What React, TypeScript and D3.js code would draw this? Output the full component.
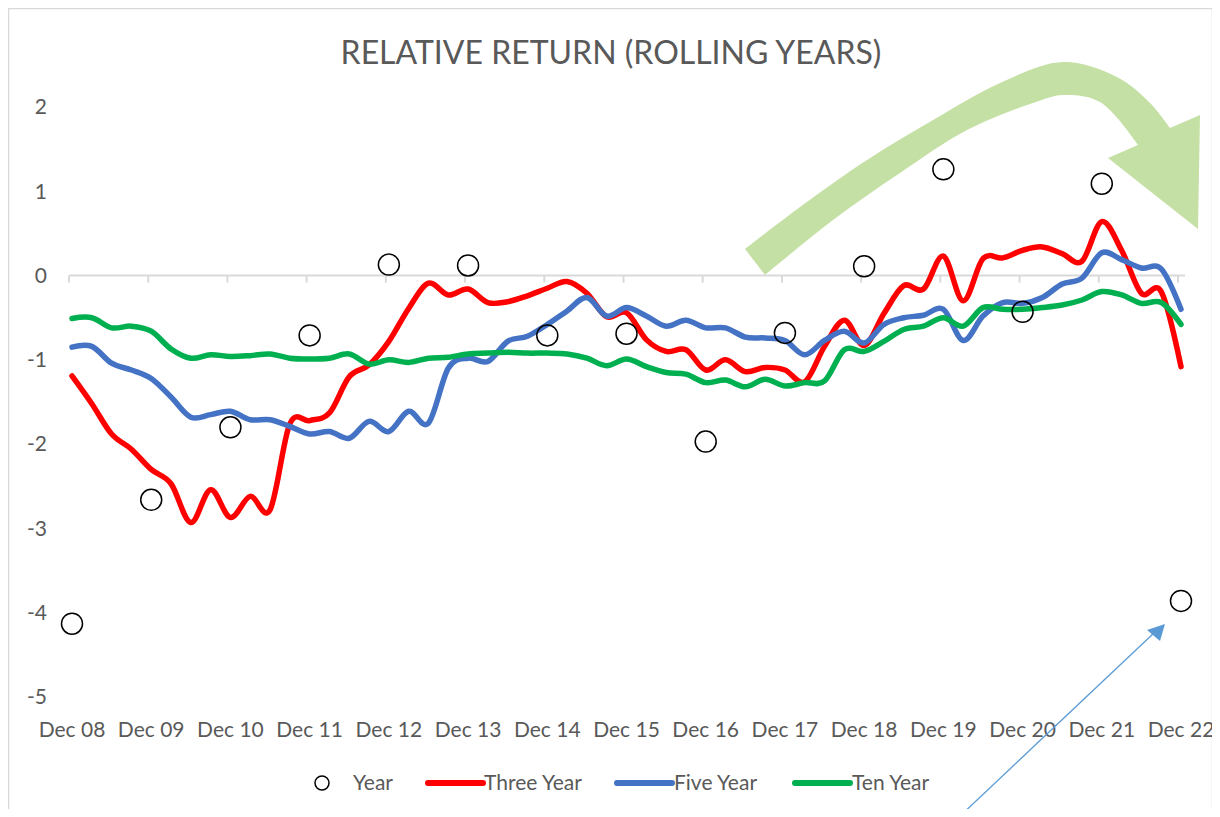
import React from 'react';
import * as d3 from 'd3';

// x-axis categories (one per December)
const yearLabels = ['Dec 08', 'Dec 09', 'Dec 10', 'Dec 11', 'Dec 12', 'Dec 13', 'Dec 14', 'Dec 15',
  'Dec 16', 'Dec 17', 'Dec 18', 'Dec 19', 'Dec 20', 'Dec 21', 'Dec 22'];

// single year relative return (circles)
const yearValues = [-4.13, -2.66, -1.80, -0.71, 0.13, 0.12, -0.71, -0.69, -1.97, -0.68, 0.11, 1.26, -0.43, 1.09, -3.86];

// rolling series, quarterly from Dec 08 to Dec 22
const threeYear = [
  -1.19, -1.52, -1.88, -2.06,
  -2.30, -2.47, -2.93, -2.54,
  -2.87, -2.62, -2.78, -1.76,
  -1.72, -1.63, -1.20, -1.06,
  -0.78, -0.39, -0.09, -0.23,
  -0.16, -0.32, -0.31, -0.24,
  -0.15, -0.07, -0.21, -0.49,
  -0.44, -0.76, -0.90, -0.88,
  -1.12, -1.00, -1.14, -1.09,
  -1.12, -1.26, -0.84, -0.53,
  -0.83, -0.45, -0.12, -0.16,
  0.23, -0.30, 0.20, 0.21,
  0.30, 0.34, 0.26, 0.17,
  0.64, 0.30, -0.21, -0.19,
  -1.08,
];
const fiveYear = [
  -0.85, -0.84, -1.04, -1.12,
  -1.22, -1.44, -1.68, -1.65,
  -1.61, -1.71, -1.71, -1.79,
  -1.88, -1.85, -1.93, -1.73,
  -1.85, -1.61, -1.75, -1.10,
  -0.98, -1.02, -0.78, -0.72,
  -0.58, -0.42, -0.26, -0.48,
  -0.38, -0.48, -0.60, -0.53,
  -0.62, -0.62, -0.73, -0.74,
  -0.77, -0.94, -0.77, -0.66,
  -0.80, -0.58, -0.50, -0.47,
  -0.40, -0.77, -0.48, -0.32,
  -0.33, -0.26, -0.10, -0.03,
  0.27, 0.19, 0.09, 0.08,
  -0.40,
];
const tenYear = [
  -0.51, -0.50, -0.62, -0.60,
  -0.66, -0.87, -0.98, -0.94,
  -0.96, -0.95, -0.93, -0.98,
  -0.99, -0.98, -0.93, -1.05,
  -1.00, -1.03, -0.98, -0.97,
  -0.93, -0.92, -0.91, -0.92,
  -0.92, -0.93, -0.98, -1.07,
  -0.99, -1.08, -1.15, -1.17,
  -1.27, -1.24, -1.32, -1.23,
  -1.31, -1.27, -1.25, -0.88,
  -0.90, -0.78, -0.64, -0.60,
  -0.50, -0.60, -0.38, -0.40,
  -0.40, -0.38, -0.35, -0.29,
  -0.19, -0.23, -0.33, -0.32,
  -0.58,
];

const yTicks = [2, 1, 0, -1, -2, -3, -4, -5];

const series = [
  { name: 'Three Year', values: threeYear, color: '#FF0000' },
  { name: 'Five Year', values: fiveYear, color: '#4472C4' },
  { name: 'Ten Year', values: tenYear, color: '#00B050' },
];

const FONT = 'Lato, "Open Sans", sans-serif';
const TEXT = '#595959';
const GRID = '#D9D9D9';

const App = () => {
  const W = 1220;
  const H = 817;

  // page coordinates (the svg sits inside the 8px body margin)
  const x = d3.scaleLinear().domain([0, yearLabels.length - 1]).range([72, 1181]);
  const y = d3.scaleLinear().domain([-5, 2]).range([697, 107]);

  const line = d3.line<number>()
    .x((d, i) => x(i / 4))
    .y(d => y(d))
    .curve(d3.curveCardinal.tension(0));

  // curved green annotation arrow
  const outer = d3.line().curve(d3.curveCatmullRom)([
    [745, 249], [800, 207], [867, 160], [933, 120], [1000, 83], [1063, 62], [1117, 77], [1150, 103], [1170, 128],
  ]);
  const inner = d3.line().curve(d3.curveCatmullRom)([
    [1138, 145], [1100, 102], [1063, 95], [1033, 103], [967, 130], [900, 173], [833, 220], [765, 275],
  ]);
  const arrowPath = `${outer} L1200,115 L1198,229 L1108,158 L${inner!.slice(1)} Z`;

  const legendItems = [
    { name: 'Year', type: 'circle', color: '#000', cx: 322, tx: 353 },
    { name: 'Three Year', type: 'line', color: series[0].color, cx: 428, tx: 484 },
    { name: 'Five Year', type: 'line', color: series[1].color, cx: 617, tx: 674 },
    { name: 'Ten Year', type: 'line', color: series[2].color, cx: 795, tx: 852 },
  ];

  return (
    <svg width={W - 8} height={H - 8} style={{ display: 'block', overflow: 'hidden', marginBottom: -8 }}>
      <g transform="translate(-8,-8)" fontFamily={FONT}>
        <rect x={8.5} y={8.5} width={1204} height={830} fill="#fff" stroke={GRID} strokeWidth={1.5} />

        <text x={611} y={64} textAnchor="middle" fontSize={32} fill={TEXT}>
          RELATIVE RETURN (ROLLING YEARS)
        </text>

        {/* y labels */}
        {yTicks.map(t => (
          <text key={t} x={47} y={y(t)} dy="0.35em" textAnchor="end" fontSize={21} fill={TEXT}>
            {t}
          </text>
        ))}

        {/* zero axis with ticks */}
        <line x1={x(0) - 3} x2={x(yearLabels.length - 1) + 4} y1={y(0)} y2={y(0)} stroke={GRID} strokeWidth={2} />
        {yearLabels.map((l, i) => (
          <line key={l} x1={x(i) - 3} x2={x(i) - 3} y1={y(0)} y2={y(0) + 7} stroke={GRID} strokeWidth={2} />
        ))}

        {/* x labels */}
        {yearLabels.map((l, i) => (
          <text key={l} x={x(i)} y={737} textAnchor="middle" fontSize={21} fill={TEXT}>
            {l}
          </text>
        ))}

        <path d={arrowPath} fill="#C5E0A5" />

        {series.map(s => (
          <path key={s.name} d={line(s.values)!} fill="none" stroke={s.color} strokeWidth={5.5}
            strokeLinejoin="round" strokeLinecap="round" />
        ))}

        {yearValues.map((v, i) => (
          <circle key={i} cx={x(i)} cy={y(v)} r={10.5} fill="none" stroke="#000" strokeWidth={1.5} />
        ))}

        {/* legend */}
        {legendItems.map(item => (
          <g key={item.name}>
            {item.type === 'circle'
              ? <circle cx={item.cx} cy={783} r={7} fill="none" stroke="#000" strokeWidth={1.5} />
              : <line x1={item.cx} x2={item.cx + 55} y1={783} y2={783} stroke={item.color} strokeWidth={6} strokeLinecap="round" />}
            <text x={item.tx} y={783} dy="0.35em" fontSize={21} fill={TEXT}>{item.name}</text>
          </g>
        ))}

        {/* thin blue pointer arrow */}
        <line x1={958} y1={818} x2={1155} y2={632} stroke="#5B9BD5" strokeWidth={1.3} />
        <path d="M1165,624 L1147,630 L1160,641 Z" fill="#5B9BD5" />
      </g>
    </svg>
  );
};

export default App;
